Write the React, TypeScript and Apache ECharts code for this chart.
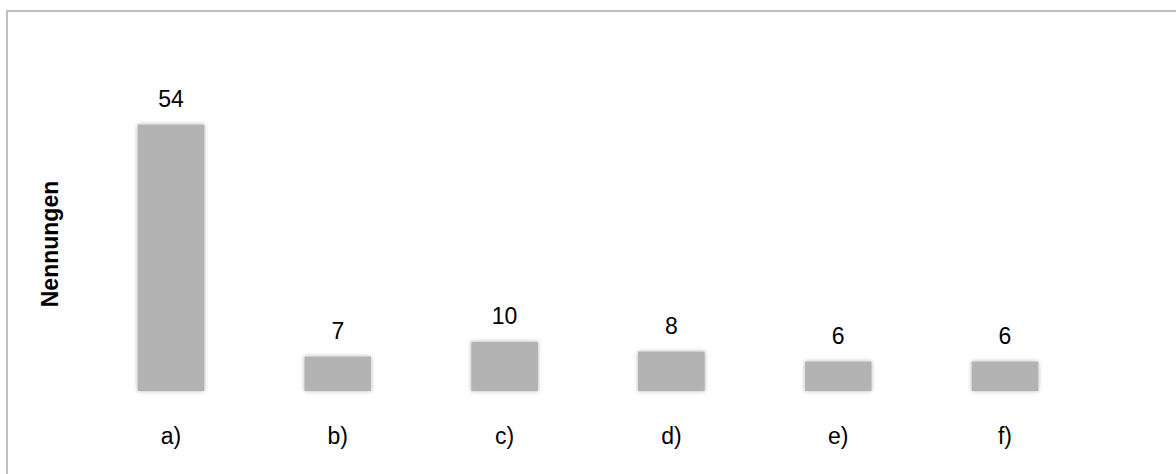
import React, { useEffect, useRef } from "react";
import * as echarts from "echarts";

const categories = ["a)", "b)", "c)", "d)", "e)", "f)"];
const values = [54, 7, 10, 8, 6, 6];
const axisTitle = "Nennungen";

export default function App() {
  const ref = useRef<HTMLDivElement>(null);
  useEffect(() => {
    document.body.style.margin = "0";
    const chart = echarts.init(ref.current!, null, { renderer: "svg" });
    chart.setOption({
      animation: false,
      backgroundColor: "#ffffff",
      grid: { left: 87.6, right: 87.6, top: 95, bottom: 83 },
      xAxis: {
        type: "category",
        data: categories,
        axisLine: { show: false },
        axisTick: { show: false },
        axisLabel: {
          margin: 33,
          fontSize: 23,
          color: "#000000",
          fontFamily: "Liberation Sans, Arial, sans-serif",
        },
      },
      yAxis: {
        type: "value",
        min: 0,
        max: 60,
        show: false,
      },
      graphic: [
        {
          type: "rect",
          shape: { x: 7, y: 11, width: 1300, height: 600 },
          style: { fill: "none", stroke: "#bfbfbf", lineWidth: 2 },
          silent: true,
        },
        {
          type: "text",
          x: 50,
          y: 244,
          rotation: Math.PI / 2,
          style: {
            text: axisTitle,
            fontSize: 23,
            fontWeight: "bold",
            fill: "#000000",
            fontFamily: "Liberation Sans, Arial, sans-serif",
            align: "center",
            verticalAlign: "middle",
          },
        },
      ],
      series: [
        {
          type: "bar",
          data: values,
          barWidth: "40%",
          itemStyle: {
            color: "#b3b3b3",
            shadowBlur: 4,
            shadowColor: "rgba(0,0,0,0.3)",
          },
          label: {
            show: true,
            position: "top",
            distance: 14,
            fontSize: 23,
            color: "#000000",
            fontFamily: "Liberation Sans, Arial, sans-serif",
          },
        },
      ],
    });
    return () => chart.dispose();
  }, []);
  return <div ref={ref} style={{ width: 1176, height: 474 }} />;
}
